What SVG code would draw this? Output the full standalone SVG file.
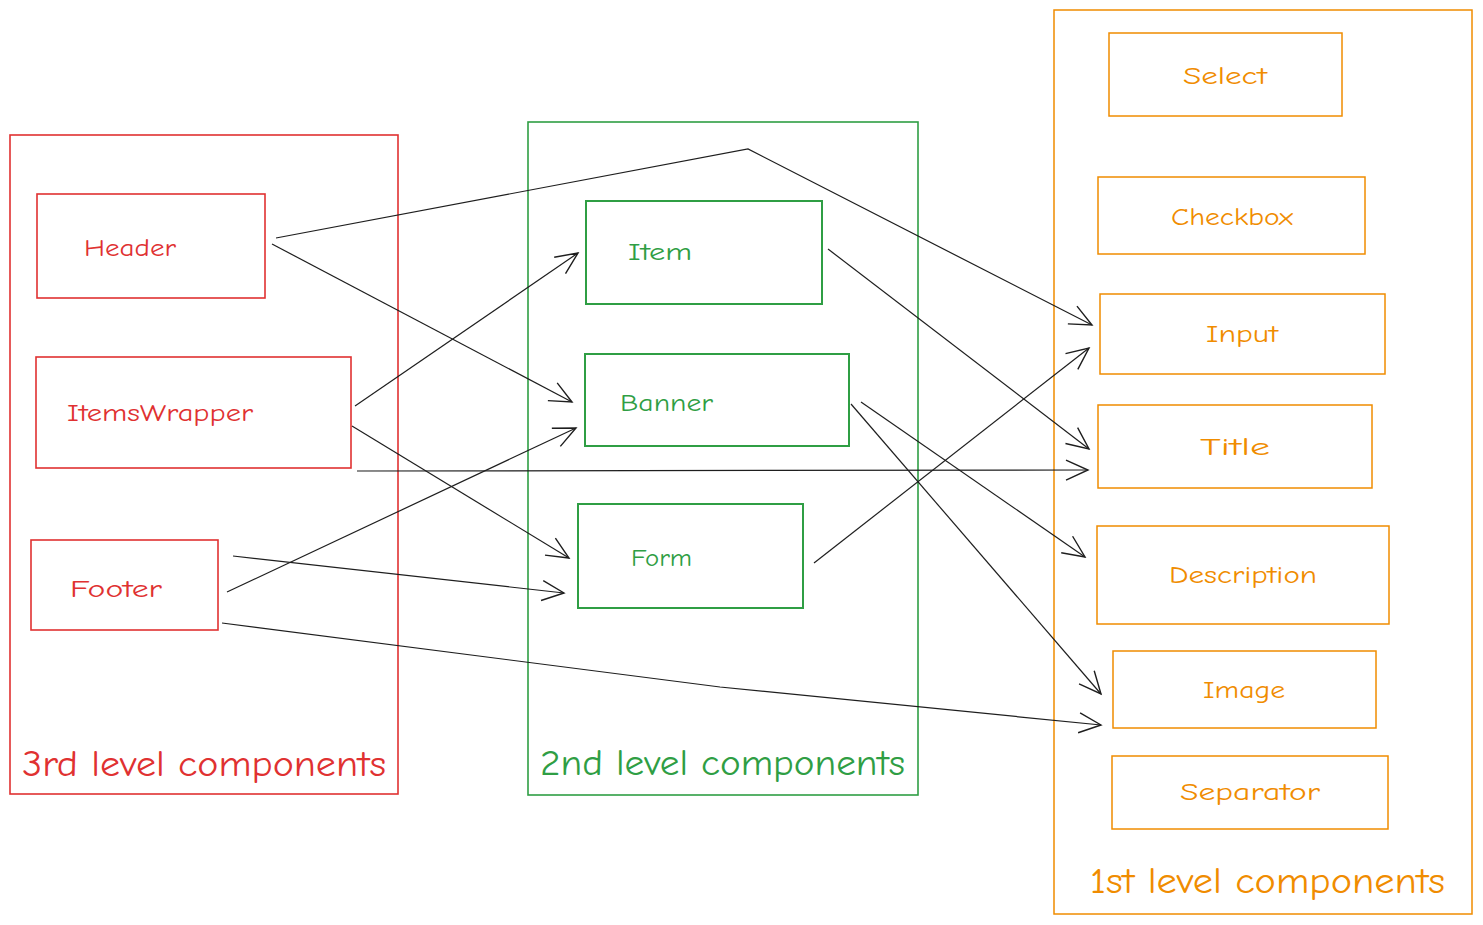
<svg xmlns="http://www.w3.org/2000/svg" width="1483" height="925" viewBox="0 0 1483 925">
<style>
.r{fill:none;stroke:#e03131;stroke-width:1.6}
.g{fill:none;stroke:#2f9e44;stroke-width:2}
.o{fill:none;stroke:#f08c00;stroke-width:1.5}
.tr{fill:#e03131}.tg{fill:#2f9e44}.to{fill:#f08c00}
text{font-family:"Comic Neue","Liberation Sans","DejaVu Sans",sans-serif;font-size:24px}
.big{font-size:36px}
.c{fill:none;stroke:#1e1e1e;stroke-width:1.2}
</style>
<defs>
<marker id="ah" markerUnits="userSpaceOnUse" markerWidth="30" markerHeight="30" refX="24" refY="12" orient="auto">
<path d="M2,2 L24,12 L2,22" fill="none" stroke="#1e1e1e" stroke-width="1.4"/>
</marker>
</defs>
<rect width="1483" height="925" fill="#ffffff"/>

<g id="group-3rd">
<rect class="r" x="10" y="135" width="388" height="659"/>
<text class="tr big" x="22" y="776" textLength="364" lengthAdjust="spacingAndGlyphs">3rd level components</text>
</g>
<g id="header"><rect class="r" x="37" y="194" width="228" height="104"/><text class="tr" x="84" y="256" textLength="92" lengthAdjust="spacingAndGlyphs">Header</text></g>
<g id="itemswrapper"><rect class="r" x="36" y="357" width="315" height="111"/><text class="tr" x="67" y="421" textLength="186" lengthAdjust="spacingAndGlyphs">ItemsWrapper</text></g>
<g id="footer"><rect class="r" x="31" y="540" width="187" height="90"/><text class="tr" x="70" y="597" textLength="92" lengthAdjust="spacingAndGlyphs">Footer</text></g>

<g id="group-2nd">
<rect class="g" style="stroke-width:1.6" x="528" y="122" width="390" height="673"/>
<text class="tg big" x="540" y="775" textLength="365" lengthAdjust="spacingAndGlyphs">2nd level components</text>
</g>
<g id="item"><rect class="g" x="586" y="201" width="236" height="103"/><text class="tg" x="628" y="260" textLength="64" lengthAdjust="spacingAndGlyphs">Item</text></g>
<g id="banner"><rect class="g" x="585" y="354" width="264" height="92"/><text class="tg" x="620" y="411" textLength="93" lengthAdjust="spacingAndGlyphs">Banner</text></g>
<g id="form"><rect class="g" x="578" y="504" width="225" height="104"/><text class="tg" x="631" y="566" textLength="61" lengthAdjust="spacingAndGlyphs">Form</text></g>

<g id="group-1st">
<rect class="o" x="1054" y="10" width="418" height="904"/>
<text class="to big" x="1090" y="893" textLength="355" lengthAdjust="spacingAndGlyphs">1st level components</text>
</g>
<g id="select"><rect class="o" x="1109" y="33" width="233" height="83"/><text class="to" x="1225" y="84" text-anchor="middle" textLength="84" lengthAdjust="spacingAndGlyphs">Select</text></g>
<g id="checkbox"><rect class="o" x="1098" y="177" width="267" height="77"/><text class="to" x="1232" y="225" text-anchor="middle" textLength="122" lengthAdjust="spacingAndGlyphs">Checkbox</text></g>
<g id="input"><rect class="o" x="1100" y="294" width="285" height="80"/><text class="to" x="1242" y="342" text-anchor="middle" textLength="72" lengthAdjust="spacingAndGlyphs">Input</text></g>
<g id="title"><rect class="o" x="1098" y="405" width="274" height="83"/><text class="to" x="1235" y="455" text-anchor="middle" textLength="70" lengthAdjust="spacingAndGlyphs">Title</text></g>
<g id="description"><rect class="o" x="1097" y="526" width="292" height="98"/><text class="to" x="1243" y="583" text-anchor="middle" textLength="148" lengthAdjust="spacingAndGlyphs">Description</text></g>
<g id="image"><rect class="o" x="1113" y="651" width="263" height="77"/><text class="to" x="1244" y="698" text-anchor="middle" textLength="82" lengthAdjust="spacingAndGlyphs">Image</text></g>
<g id="separator"><rect class="o" x="1112" y="756" width="276" height="73"/><text class="to" x="1250" y="800" text-anchor="middle" textLength="140" lengthAdjust="spacingAndGlyphs">Separator</text></g>

<g id="connectors">
<polyline class="c" points="276,238 748,149 1092,325" marker-end="url(#ah)"/>
<line class="c" x1="272" y1="244" x2="572" y2="402" marker-end="url(#ah)"/>
<line class="c" x1="355" y1="406" x2="578" y2="253" marker-end="url(#ah)"/>
<line class="c" x1="352" y1="426" x2="569" y2="558" marker-end="url(#ah)"/>
<line class="c" x1="357" y1="471" x2="1088" y2="470" marker-end="url(#ah)"/>
<line class="c" x1="227" y1="592" x2="576" y2="428" marker-end="url(#ah)"/>
<line class="c" x1="233" y1="556" x2="564" y2="593" marker-end="url(#ah)"/>
<polyline class="c" points="222,623 720,687 1101,725" marker-end="url(#ah)"/>
<line class="c" x1="828" y1="249" x2="1089" y2="449" marker-end="url(#ah)"/>
<line class="c" x1="861" y1="402" x2="1085" y2="557" marker-end="url(#ah)"/>
<line class="c" x1="851" y1="404" x2="1101" y2="694" marker-end="url(#ah)"/>
<line class="c" x1="814" y1="563" x2="1089" y2="348" marker-end="url(#ah)"/>
</g>
</svg>
